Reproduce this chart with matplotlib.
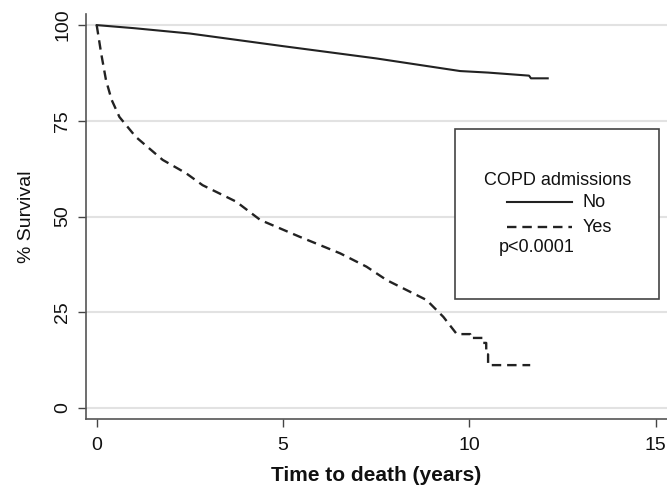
import matplotlib
matplotlib.use("Agg")
import matplotlib.pyplot as plt
from matplotlib.lines import Line2D
from matplotlib.patches import Rectangle

# Kaplan-Meier style survival
no_time = [0, 1.0, 2.5, 5.0, 7.5, 9.75, 10.5, 11.6, 11.65, 12.1]
no_surv = [100, 99.2, 97.8, 94.5, 91.3, 88.0, 87.6, 86.8, 86.1, 86.1]

yes_time = [0, 0.12, 0.25, 0.4, 0.61, 1.05, 1.77, 2.4, 2.84, 3.74, 4.39,
            5.45, 6.53, 7.24, 7.78, 8.85, 9.3, 9.66, 10.02, 10.02, 10.35,
            10.35, 10.45, 10.45, 10.5, 10.5, 11.63]
yes_surv = [100, 92.6, 85.6, 80.5, 76.0, 70.8, 64.8, 61.3, 58.2, 53.9, 49.1,
            44.7, 40.4, 36.9, 33.4, 28.2, 23.8, 19.3, 19.3, 18.3, 18.3,
            17.0, 17.0, 14.0, 14.0, 11.2, 11.2]

x_ticks = [0, 5, 10, 15]
y_ticks = [0, 25, 50, 75, 100]

plt.rcParams["font.family"] = ["Liberation Sans", "DejaVu Sans"]

fig = plt.figure(figsize=(6.67, 4.88), dpi=100)
ax = fig.add_axes([86 / 667, 1 - 419.3 / 488, 581 / 667, 405.3 / 488])

line_col = "#222222"
ax.plot(no_time, no_surv, color=line_col, lw=1.5, solid_joinstyle="round")
ax.plot(yes_time, yes_surv, color=line_col, lw=1.7, dashes=(4, 2.5))

ax.set_xlim(-0.287, 15.3)
ax.set_ylim(-2.95, 102.9)
ax.set_xticks(x_ticks)
ax.set_yticks(y_ticks)
ax.set_yticklabels([str(v) for v in y_ticks], rotation=90, va="center")
ax.tick_params(axis="both", direction="out", length=5.5, width=1.0,
               color="#444444", labelsize=14, labelcolor="#111111")
ax.tick_params(axis="x", pad=7)
ax.tick_params(axis="y", pad=5)

ax.yaxis.grid(True, color="#e2e2e2", lw=1.5)
ax.set_axisbelow(True)
for side in ["top", "right"]:
    ax.spines[side].set_visible(False)
for side in ["left", "bottom"]:
    ax.spines[side].set_color("#555555")
    ax.spines[side].set_linewidth(1.2)

ax.set_xlabel("Time to death (years)", fontsize=15, fontweight="bold",
              color="#111111", labelpad=9)
ax.set_ylabel("% Survival", fontsize=14, color="#111111", labelpad=14)

# legend box drawn by hand, Stata style
ax.add_patch(Rectangle((0.635, 0.297), 0.351, 0.419, transform=ax.transAxes,
                       fill=True, facecolor="white", edgecolor="#444444",
                       lw=1.2, zorder=5))
ax.text(0.811, 0.590, "COPD admissions", transform=ax.transAxes,
        ha="center", va="center", fontsize=13, color="#111111", zorder=6)
ax.add_line(Line2D([0.725, 0.836], [0.536, 0.536], transform=ax.transAxes,
                   color=line_col, lw=1.5, zorder=6))
ax.add_line(Line2D([0.725, 0.836], [0.474, 0.474], transform=ax.transAxes,
                   color=line_col, lw=1.7, dashes=(4, 2.5), zorder=6))
ax.text(0.855, 0.536, "No", transform=ax.transAxes, ha="left", va="center",
        fontsize=13, color="#111111", zorder=6)
ax.text(0.855, 0.474, "Yes", transform=ax.transAxes, ha="left", va="center",
        fontsize=13, color="#111111", zorder=6)
ax.text(0.711, 0.425, "p<0.0001", transform=ax.transAxes, ha="left",
        va="center", fontsize=13, color="#111111", zorder=6)

fig.savefig("out.png", dpi=100)
